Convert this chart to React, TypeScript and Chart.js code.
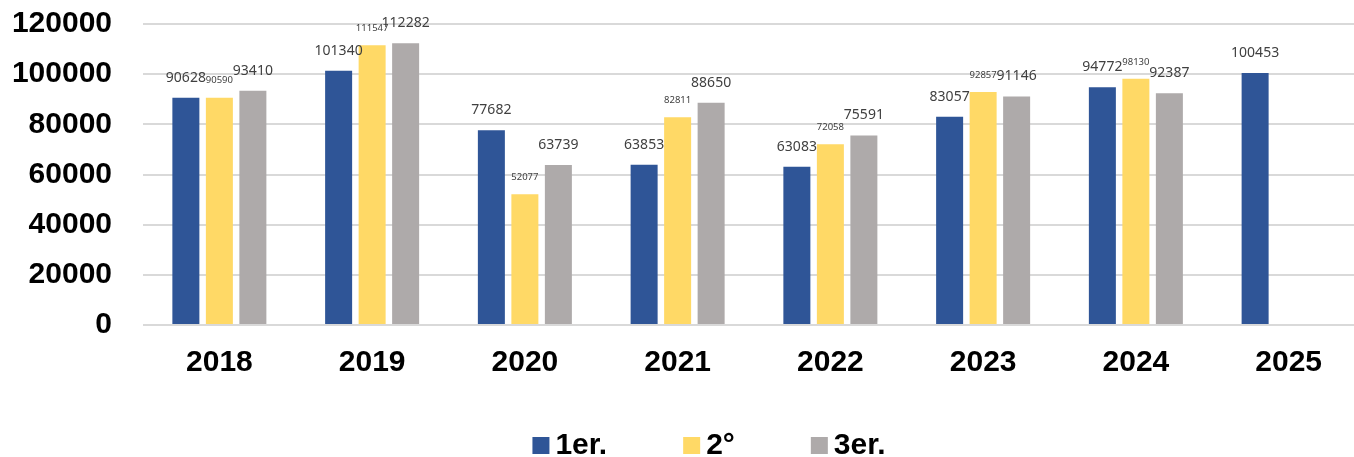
import React, { useEffect, useRef } from 'react';
import { Chart, registerables } from 'chart.js';

Chart.register(...registerables);

const categories = ['2018', '2019', '2020', '2021', '2022', '2023', '2024', '2025'];
const seriesNames = ['1er.', '2°', '3er.'];
const serie1 = [90628, 101340, 77682, 63853, 63083, 83057, 94772, 100453];
const serie2 = [90590, 111547, 52077, 82811, 72058, 92857, 98130, null];
const serie3 = [93410, 112282, 63739, 88650, 75591, 91146, 92387, null];
const seriesColors = ['#2F5597', '#FFD966', '#AEAAAA'];
const yMax = 120000;
const yStep = 20000;

const BOLD_FONT = 'bold 30px Arial, "Liberation Sans"';

const valueLabels = {
  id: 'valueLabels',
  afterDatasetsDraw(chart: any) {
    const ctx = chart.ctx;
    chart.data.datasets.forEach((ds: any, i: number) => {
      const meta = chart.getDatasetMeta(i);
      const small = i === 1;
      ctx.save();
      ctx.font = `${small ? 9.5 : 14}px "Noto Sans"`;
      ctx.fillStyle = '#404040';
      ctx.textAlign = 'center';
      ctx.textBaseline = 'middle';
      meta.data.forEach((el: any, j: number) => {
        const v = ds.data[j];
        if (v == null) return;
        ctx.fillText(String(v), el.x, el.y - (small ? 17 : 20));
      });
      ctx.restore();
    });
  },
};

const bottomLegend = {
  id: 'bottomLegend',
  afterDraw(chart: any) {
    const ctx = chart.ctx;
    const items = chart.data.datasets.map((ds: any) => ({ text: ds.label, color: ds.backgroundColor }));
    const box = 17;
    const gap = 6;
    const spacing = 76;
    ctx.save();
    ctx.font = BOLD_FONT;
    const widths = items.map((it: any) => box + gap + ctx.measureText(it.text).width);
    const total = widths.reduce((a: number, b: number) => a + b, 0) + spacing * (items.length - 1);
    let x = 709 - total / 2;
    const baseline = 454;
    items.forEach((it: any, i: number) => {
      ctx.fillStyle = it.color;
      ctx.fillRect(x, 437, box, box);
      ctx.fillStyle = '#000';
      ctx.textAlign = 'left';
      ctx.textBaseline = 'alphabetic';
      ctx.fillText(it.text, x + box + gap, baseline);
      x += widths[i] + spacing;
    });
    ctx.restore();
  },
};

export default function App() {
  const ref = useRef<HTMLCanvasElement>(null);
  useEffect(() => {
    if (!ref.current) return;
    const chart = new Chart(ref.current, {
      type: 'bar',
      data: {
        labels: categories,
        datasets: [serie1, serie2, serie3].map((d, i) => ({
          label: seriesNames[i],
          data: d,
          backgroundColor: seriesColors[i],
          borderWidth: 0,
          categoryPercentage: 0.658,
          barPercentage: 0.806,
        })),
      },
      options: {
        responsive: false,
        animation: false,
        devicePixelRatio: 1,
        layout: { padding: { left: 0, right: 0, top: 24, bottom: 62 } },
        plugins: {
          tooltip: { enabled: false },
          legend: { display: false },
        },
        scales: {
          x: {
            grid: { display: false, drawTicks: false },
            border: { display: false },
            ticks: {
              padding: 20,
              color: '#000',
              font: { family: 'Arial, "Liberation Sans"', size: 30, weight: 'bold' },
            },
            afterFit: (s: any) => {
              s.height = 70;
              s.paddingLeft = 0;
              s.paddingRight = 0;
            },
          },
          y: {
            min: 0,
            max: yMax,
            ticks: {
              stepSize: yStep,
              padding: 31,
              color: '#000',
              font: { family: 'Arial, "Liberation Sans"', size: 30, weight: 'bold' },
              callback: (v: any) => String(v),
            },
            grid: { color: '#D9D9D9', lineWidth: 2, drawTicks: false },
            border: { display: false },
            afterFit: (s: any) => {
              s.width = 143;
              s.paddingTop = 0;
              s.paddingBottom = 0;
            },
          },
        },
      },
      plugins: [valueLabels, bottomLegend],
    });
    return () => chart.destroy();
  }, []);
  return (
    <div style={{ position: 'absolute', left: 0, top: 0, width: 1354, height: 457, overflow: 'hidden', background: '#fff' }}>
      <canvas ref={ref} width={1365} height={457} />
    </div>
  );
}
